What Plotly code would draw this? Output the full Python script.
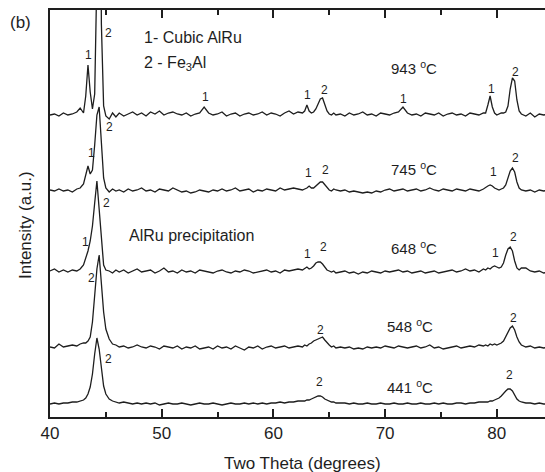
import plotly.graph_objects as go

# ---- data (2-theta grid in degrees, intensities in arbitrary units above each baseline) ----
two_theta = [
    40.0, 40.4, 40.8, 41.2, 41.6, 42.0, 42.4,
    42.7, 43.0,
    43.2, 43.4, 43.6, 43.8, 44.0, 44.2, 44.4, 44.6, 44.8, 45.0,
    45.3, 45.6, 45.9,
    46.2, 46.6, 47.0, 47.4, 47.8, 48.2, 48.6, 49.0, 49.4, 49.8, 50.2, 50.6, 51.0, 51.4,
    51.8, 52.2, 52.6, 53.0, 53.4, 53.8, 54.2, 54.6, 55.0, 55.4, 55.8, 56.2, 56.6, 57.0,
    57.4, 57.8, 58.2, 58.6, 59.0, 59.4, 59.8, 60.2, 60.6, 61.0, 61.4, 61.8, 62.2,
    62.6, 62.8, 63.0, 63.2, 63.4, 63.6, 63.8, 64.0, 64.2, 64.4, 64.6, 64.8, 65.0, 65.2, 65.4, 65.6,
    66.0, 66.4, 66.8, 67.2, 67.6, 68.0, 68.4, 68.8, 69.2, 69.6, 70.0, 70.4, 70.8, 71.2,
    71.6, 72.0, 72.4, 72.8, 73.2, 73.6, 74.0, 74.4, 74.8, 75.2, 75.6, 76.0, 76.4, 76.8,
    77.2, 77.6, 78.0, 78.4, 78.8,
    79.0, 79.2, 79.4, 79.6, 79.8, 80.0, 80.2, 80.4, 80.6, 80.8, 81.0, 81.2, 81.4, 81.6, 81.8, 82.0, 82.2,
    82.6, 83.0, 83.4, 83.8, 84.2, 84.6,
]

int_943 = [
    -1, 0, -2, 1, -1, 0, 2,
    6, 1,
    18, 49, 22, 5, 20, 140, 460, 90, 8, -2,
    -5, 1, -3,
    1, -2, 0, 2, -1, 1, -2, 2, 0, 3, -1, 1, 2, 0, -1, 1, -2, 0, 1, 7,
    1, -1, 0, 2, -2, 0, 1, -2, 0, 1, -1, 0, 2, -1, 1, 0, -2, 1, 3, 0, 2,
    1, 3, 9, 3, 1, 2, 5, 10, 15, 16, 10, 3, 0, -1, 1, -1,
    0, -2, 1, -1, 0, 2, -1, 0, -2, 1, 0, -1, 1, 2, 7, 1, -1, 0, -2, 1,
    0, -1, 1, -2, 0, 1, -1, 0, -2, 1, 0, -1, 1,
    1, 9, 18, 7, 1, -1, 0, 1, 1, 2, 8, 25, 36, 33, 14, 3, 0,
    -2, 1, -3, 0, -1, 0,
]

int_745 = [
    0, -1, 1, -1, 0, -2, 1,
    2, 6,
    16, 24, 16, 20, 45, 75, 83, 45, 12, 2,
    -2, 1, -1,
    0, -2, 1, -1, 0, 2, -1, 0, -2, 1, 0, -1, 2, 0, -2, -1, -3, -2, 0, -1,
    -2, 0, -1, 1, -1, 0, 2, -1, 0, 1, -2, 0, -1, 1, 0, -1, 2, 0, 1, 2, 1,
    0, 1, 2, 4, 2, 2, 4, 6, 8, 8, 5, 2, 0, -1, 1, 0,
    -1, 0, -2, -1, -2, -3, -2, -3, -1, -2, 0, 1, -1, 0, 1, -1, 0, 1, -1, 0,
    2, 0, -1, 1, 0, -1, 1, 0, -1, 1, 0, -1, 1,
    3, 4, 5, 4, 2, 1, 0, 1, 2, 5, 11, 19, 22, 18, 8, 2, 0,
    -1, 0, -2, 0, -1, 0,
]

int_648 = [
    0, 2, -1, 1, -1, 1, 0,
    2, 6,
    12, 20, 30, 45, 68, 90, 62, 30, 6, 1,
    0, -2, 1,
    -1, 1, -2, 0, 2, -1, 0, 1, -2, 0, 3, -1, 0, -2, 1, -1, 0, -2, 1, 0,
    -1, -2, 0, 1, -1, -2, 0, -1, 1, 0, -2, -1, 0, 1, -1, 0, -2, 1, 0, 1, 2,
    1, 3, 4, 2, 3, 5, 8, 9, 9, 7, 4, 1, 0, -1, 0, -2,
    -1, 0, -2, -1, -3, -1, -2, 0, -1, -2, 0, -1, 0, 1, -1, 0, -2, -1, 0, -2,
    -1, 0, -2, -1, 0, 1, -1, 0, 2, 0, 1, -1, 2,
    1, 3, 2, 4, 5, 4, 3, 4, 8, 16, 22, 24, 20, 10, 3, 1, 3,
    3, 0, -1, 0, -2, -1,
]

int_548 = [
    0, -1, 3, 0, 1, 2, 1,
    3, 4,
    4, 6, 10, 25, 50, 78, 92, 60, 35, 18,
    8, 3, 2,
    0, 1, -1, 0, 2, 0, -1, 1, 0, -2, 1, 0, -1, 1, -2, 0, -1, 1, -2, -1,
    0, -2, 1, -1, 0, -2, 1, -1, -3, 0, -1, 1, -2, 0, 1, -1, 0, 1, -1, 0, 1,
    0, 2, 1, 3, 4, 6, 7, 8, 9, 10, 7, 4, 2, 0, 1, -1,
    0, -1, 0, -2, -1, -2, 0, -1, 0, -1, 1, 0, -1, 1, 0, -1, 0, 1, -1, 0,
    2, -1, 0, -2, -1, 0, 1, -1, 0, 1, 0, 2, 1,
    2, 1, 3, 2, 3, 2, 3, 4, 6, 10, 15, 19, 21, 17, 10, 5, 2,
    0, 1, -1, 0, -1, 0,
]

int_441 = [
    0, 1, 0, 1, 1, 2, 2,
    3, 4,
    6, 10, 17, 30, 50, 66, 55, 34, 18, 10,
    5, 3, 2,
    1, 2, 1, 0, 1, 0, 1, 0, 1, -1, 0, 1, 0, 0, 1, 0, -1, 0, 1, 0,
    0, 1, 0, -1, 0, 1, 0, 0, 1, 0, 1, 0, 1, 0, 1, 1, 2, 1, 2, 2, 3,
    3, 3, 4, 4, 5, 6, 7, 8, 8, 7, 5, 4, 3, 2, 2, 1,
    1, 1, 0, 1, 0, 0, 1, 0, 0, 1, 0, 0, 1, 0, 0, 1, 0, 0, 1, 0,
    0, 1, 0, 1, 0, 0, 1, 1, 0, 1, 1, 2, 2,
    2, 2, 3, 3, 4, 5, 6, 8, 11, 13, 15, 15, 13, 9, 5, 3, 2,
    1, 1, 0, 1, 0, 0,
]

temperatures = ["441", "548", "648", "745", "943"]
stack_offsets = [13, 70, 146, 227, 303]
series = [int_441, int_548, int_648, int_745, int_943]

x_ticks = [40, 50, 60, 70, 80]

for s in series:
    assert len(s) == len(two_theta), len(s)

FONT = "Liberation Sans, Arial, sans-serif"
INK = "#1e1e1e"

fig = go.Figure()
for vals, off in zip(series, stack_offsets):
    fig.add_trace(go.Scatter(
        x=two_theta, y=[v + off for v in vals], mode="lines",
        line=dict(color=INK, width=1.3), showlegend=False, hoverinfo="skip",
    ))

# ---- annotation helpers (pixel position -> paper coordinates) ----
L, R, T, B = 50, 545, 10, 417


def ann(text, px, py, size, xanchor="center", yanchor="middle", textangle=0):
    return dict(
        text=text, x=(px - L) / (R - L), y=(B - py) / (B - T),
        xref="paper", yref="paper", xanchor=xanchor, yanchor=yanchor,
        showarrow=False, textangle=textangle,
        font=dict(family=FONT, size=size, color=INK),
    )


peak_labels = [
    ("1", 88, 55), ("2", 108, 33), ("1", 205, 97), ("1", 307, 95), ("2", 324, 90),
    ("1", 403, 99), ("1", 491, 89), ("2", 515, 72),
    ("1", 91, 153), ("2", 109, 127), ("1", 308, 173), ("2", 325, 170),
    ("1", 493, 172), ("2", 515, 158),
    ("1", 85, 242), ("2", 106, 203), ("1", 307, 254), ("2", 323, 247),
    ("1", 495, 253), ("2", 513, 237),
    ("2", 91, 278), ("2", 320, 330), ("2", 513, 318),
    ("2", 108, 359), ("2", 319, 382), ("2", 509, 375),
]
temp_pos = {"943": (414, 68), "745": (414, 168), "648": (414, 247),
            "548": (410, 325), "441": (410, 386)}

annotations = [ann(t, x, y, 12) for t, x, y in peak_labels]
for t in temperatures:
    px, py = temp_pos[t]
    annotations.append(ann(t + " <sup>o</sup>C", px, py, 15))

annotations += [
    ann("1- Cubic AlRu", 142, 37, 16, xanchor="left"),
    ann("2 - Fe<sub>3</sub>Al", 142, 63, 16, xanchor="left"),
    ann("AlRu precipitation", 127, 235, 16, xanchor="left"),
    ann("(b)", 20, 22, 17),
    ann("Two Theta (degrees)", 302, 463, 17),
    ann("Intensity (a.u.)", 25, 225, 17, textangle=-90),
]

fig.update_layout(
    width=545, height=472,
    margin=dict(l=L, r=545 - R, t=T, b=472 - B),
    paper_bgcolor="white", plot_bgcolor="white",
    font=dict(family=FONT, size=16, color=INK),
    annotations=annotations,
    xaxis=dict(
        range=[40, 40 + (R - L) / 11.17], tickvals=x_ticks, ticktext=[str(v) for v in x_ticks],
        ticks="inside", ticklen=8, tickwidth=1.5, tickcolor=INK,
        showline=True, linewidth=2, linecolor=INK, mirror="ticks",
        showgrid=False, zeroline=False,
        tickfont=dict(family=FONT, size=17, color=INK),
        minor=dict(tickvals=[45, 55, 65, 75, 85], ticks="inside", ticklen=5,
                   tickwidth=1.5, tickcolor=INK, showgrid=False),
    ),
    yaxis=dict(
        range=[0, B - T], showticklabels=False, ticks="",
        showline=True, linewidth=2, linecolor=INK, mirror=False,
        showgrid=False, zeroline=False,
    ),
)

fig.write_html("out.html")
